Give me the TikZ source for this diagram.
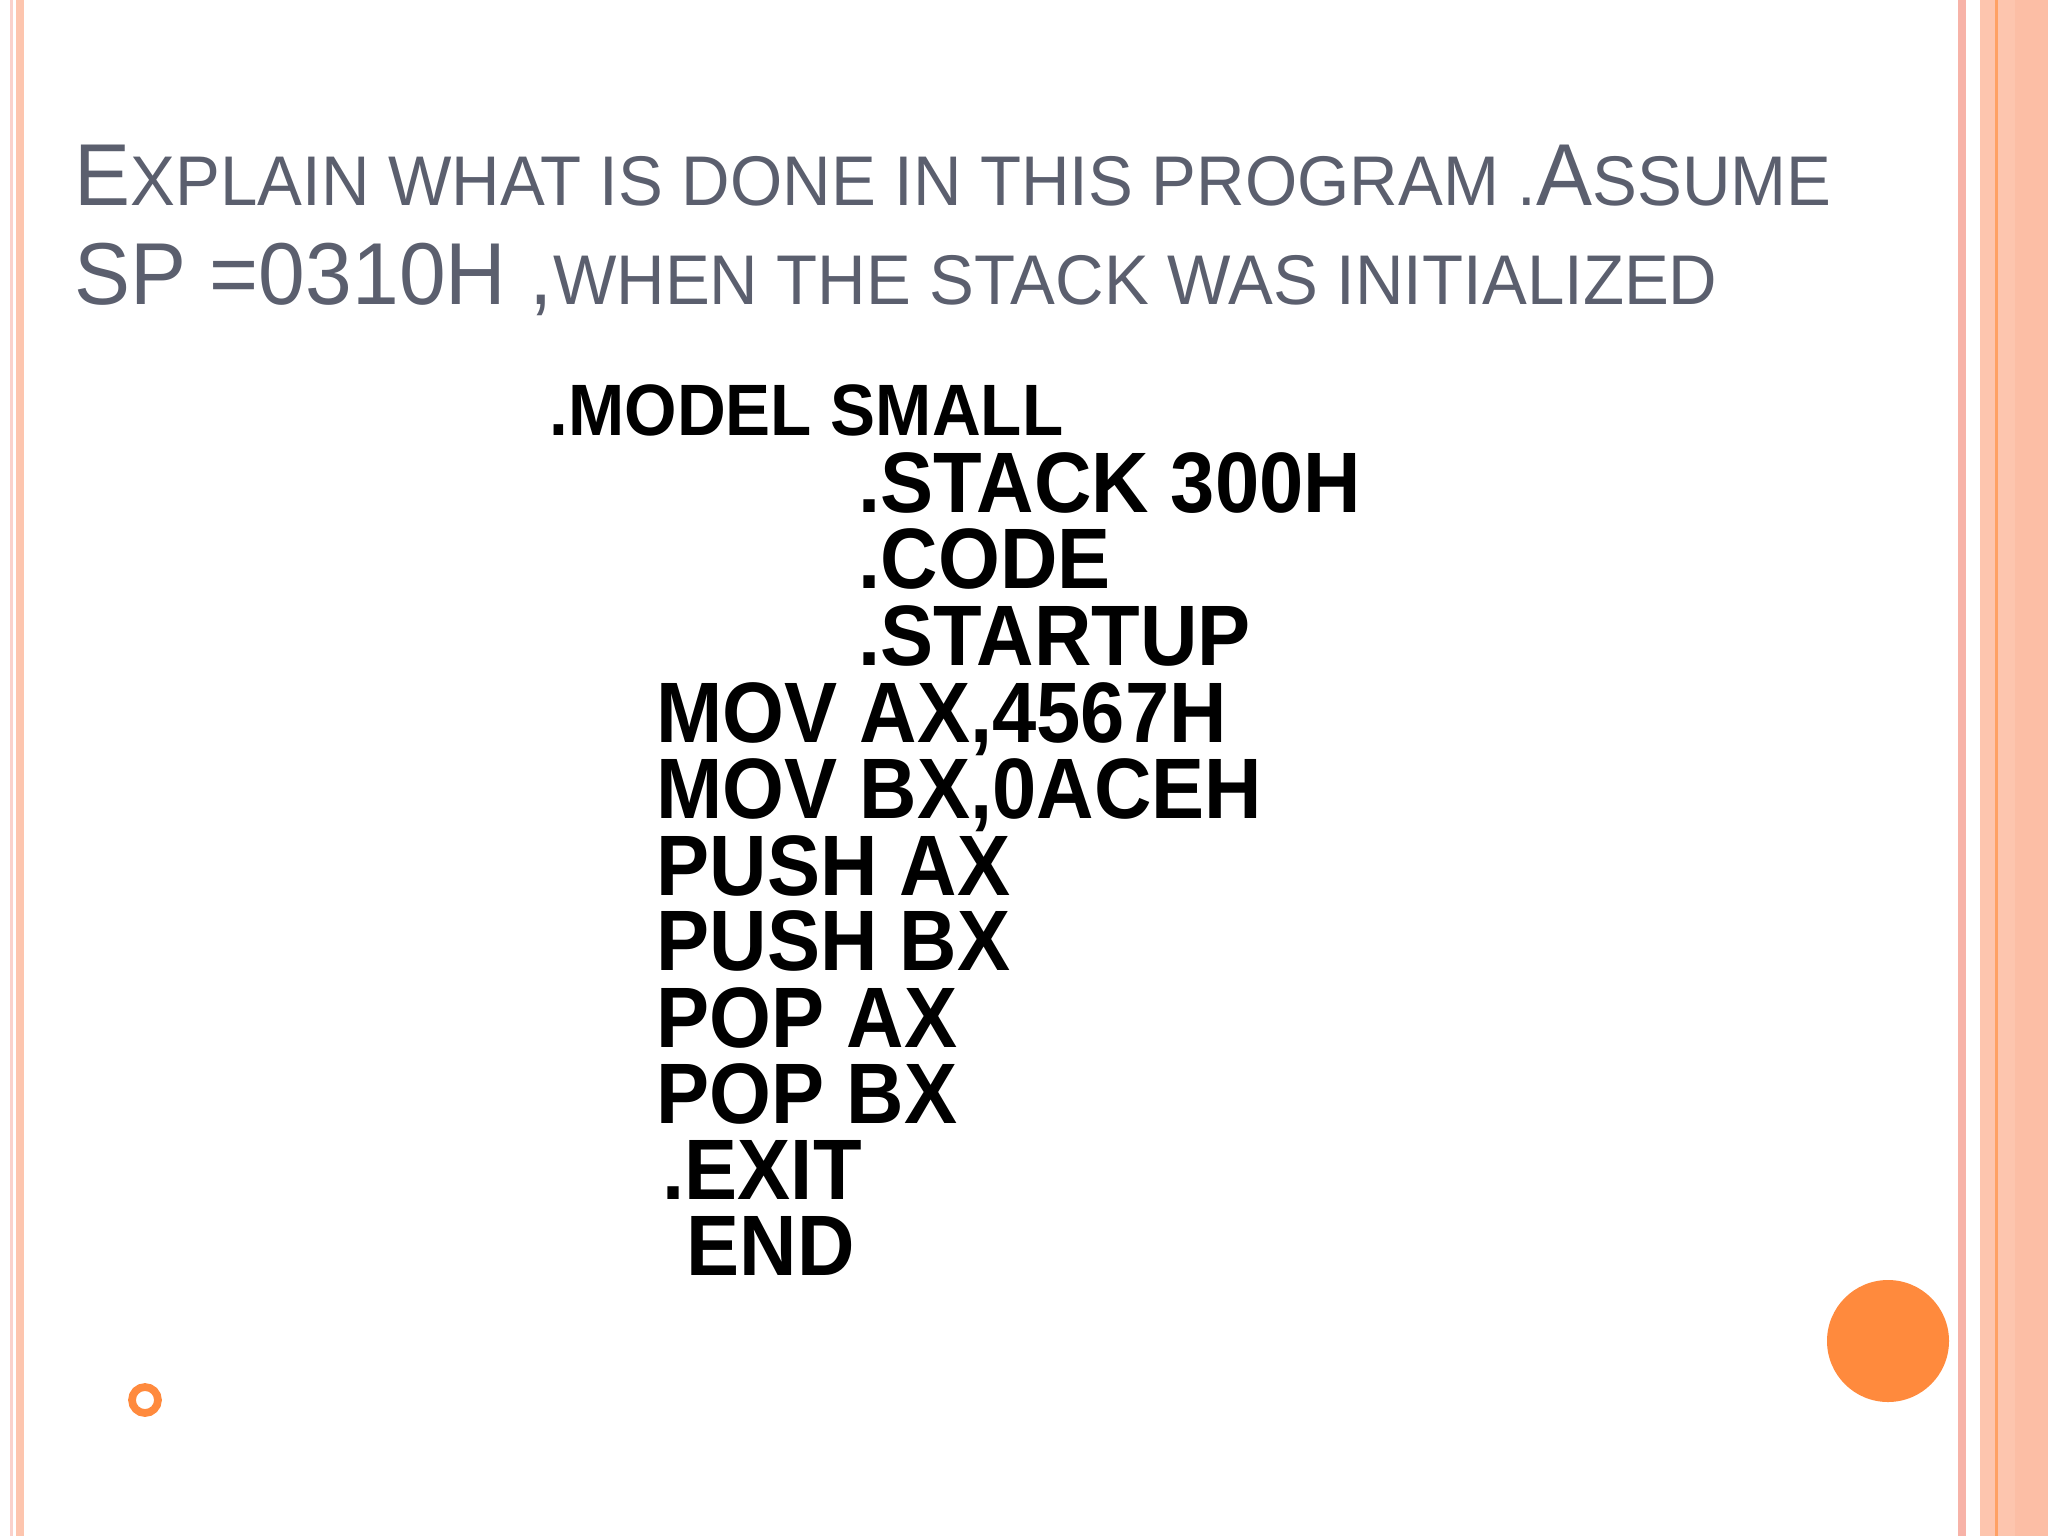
\documentclass[tikz,border=0pt]{standalone}
\usepackage{fontspec}
\setmainfont{Liberation Sans}
\newfontfamily\codefont[FakeStretch=0.927]{Liberation Sans}
\newfontfamily\titlefont[FakeStretch=0.955]{Liberation Sans}
\definecolor{salmon}{HTML}{FDC5AE}
\definecolor{salmon2}{HTML}{FCBEA5}
\definecolor{pinkline}{HTML}{F7B3A8}
\definecolor{orng}{HTML}{FF8A3D}
\definecolor{titlegrey}{HTML}{5B5F6E}
\newcommand{\BigL}[1]{{\fontsize{25}{30}\selectfont #1}}
\newcommand{\SmL}[1]{{\fontsize{20}{24}\selectfont #1}}
\begin{document}
\begin{tikzpicture}[x=0.01cm,y=-0.01cm,
  code/.style={anchor=base west,inner sep=0pt,font=\codefont\bfseries\fontsize{24.4}{28}\selectfont},
  title/.style={anchor=base west,inner sep=0pt,text=titlegrey,font=\titlefont}]
\fill[white] (0,0) rectangle (2048,1536);
\useasboundingbox (0,0) rectangle (2048,1536);
% left border
\fill[pinkline!60] (10,0) rectangle (13,1536);
\fill[salmon] (16,0) rectangle (24,1536);
% right border
\fill[pinkline] (1958,0) rectangle (1966,1536);
\fill[salmon] (1980,0) rectangle (2015,1536);
\fill[orng!80] (1995,0) rectangle (1997.5,1536);
\fill[salmon2] (2015,0) rectangle (2048,1536);
% title
\node[title] (t1) at (74,205) {\BigL{E}\SmL{XPLAIN WHAT IS DONE IN THIS PROGRAM .}\BigL{A}\SmL{SSUME}};
\node[title] (t2) at (74,304) {\BigL{SP =0310H ,}\SmL{WHEN THE STACK WAS INITIALIZED}};
% code
\node[code,font=\codefont\bfseries\fontsize{20.7}{24}\selectfont] (c1) at (549,435) {.MODEL SMALL};
\node[code] (c2) at (858,512) {.STACK 300H};
\node[code] (c3) at (858,588) {.CODE};
\node[code] (c4) at (858,665) {.STARTUP};
\node[code] (c5) at (656,742) {MOV AX,4567H};
\node[code] (c6) at (656,818) {MOV BX,0ACEH};
\node[code] (c7) at (656,895) {PUSH AX};
\node[code] (c8) at (656,970) {PUSH BX};
\node[code] (c9) at (656,1047) {POP AX};
\node[code] (c10) at (656,1123) {POP BX};
\node[code] (c11) at (662,1199) {.EXIT};
\node[code] (c12) at (686,1275) {END};
% decorations
\fill[orng] (1888,1341) circle (61);
\draw[orng,line width=2.2pt] (145,1400) circle (13);
\end{tikzpicture}
\end{document}
